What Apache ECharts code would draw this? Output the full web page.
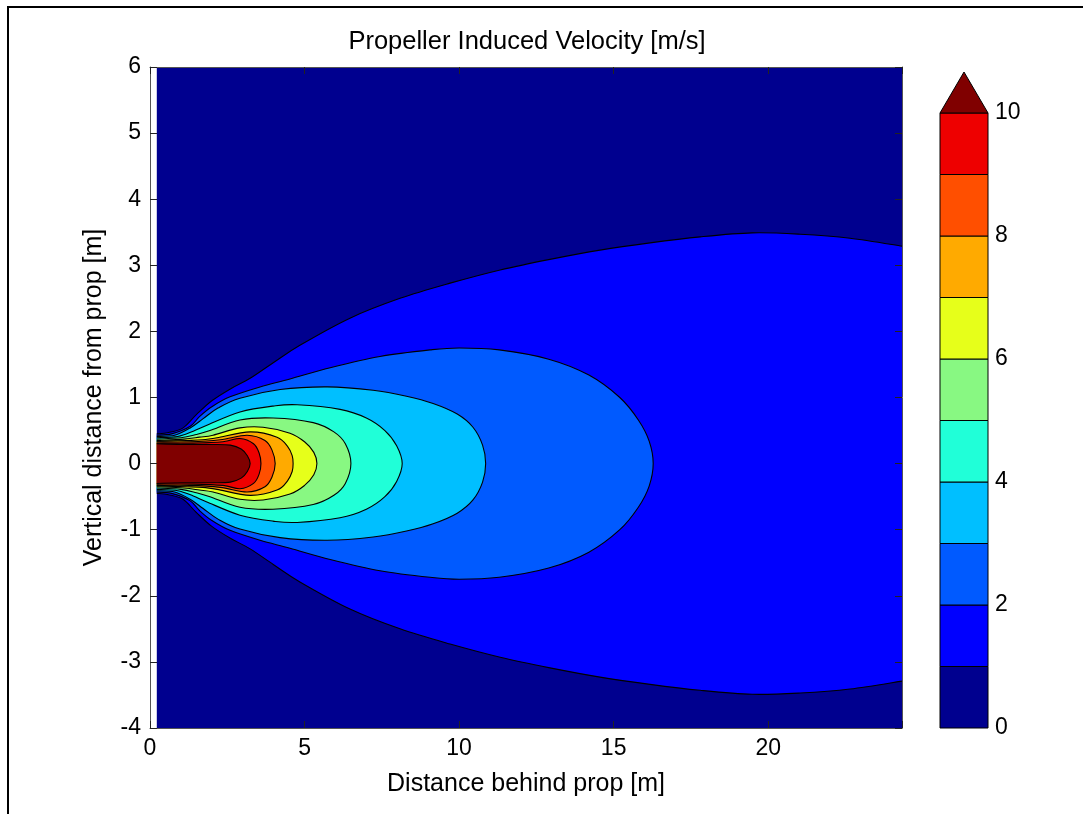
<!DOCTYPE html>
<html>
<head>
<meta charset="utf-8">
<script src="https://cdn.jsdelivr.net/npm/echarts@6/dist/echarts.min.js"></script>
<style>
  html, body { margin: 0; padding: 0; background: #fff; }
  #chart { width: 1083px; height: 814px; }
</style>
</head>
<body>
<div id="chart"></div>
<script>
// ---- data -------------------------------------------------------------
// Filled velocity bands [m/s]: 0-1, 1-2, ..., 9-10 and >10
const bandEdges = [0, 1, 2, 3, 4, 5, 6, 7, 8, 9, 10];
const bandColors = ['#00008F', '#0000FF', '#005AFF', '#00BFFF', '#20FFD8',
                    '#88F882', '#E6FF1A', '#FFAA00', '#FF4F00', '#EE0000', '#800000'];
const colorbarTicks = [0, 2, 4, 6, 8, 10];
const xTicks = [0, 5, 10, 15, 20];
const yTicks = [-4, -3, -2, -1, 0, 1, 2, 3, 4, 5, 6];

// Extent of the computed field [m]
const fieldX = [0.22, 24.33];
const fieldY = [-4, 6];

// Upper half of each iso-velocity contour, [x, y] in metres (wake is symmetric about y = 0)
const contour1 = [[0.22, 0.45], [0.6, 0.47], [1.07, 0.54], [1.5, 0.74], [2.0, 0.95], [2.6, 1.13],
  [3.24, 1.29], [4.0, 1.53], [4.85, 1.79], [6.47, 2.2], [8.09, 2.5], [9.71, 2.73], [11.33, 2.93],
  [12.94, 3.09], [14.56, 3.23], [16.18, 3.34], [17.8, 3.43], [19.48, 3.49], [21.04, 3.47],
  [22.65, 3.41], [24.33, 3.29]];
const contour2 = [[0.22, 0.43], [0.7, 0.45], [1.29, 0.56], [1.6, 0.71], [2.0, 0.86], [2.59, 1.01],
  [3.56, 1.16], [4.53, 1.28], [5.83, 1.45], [7.44, 1.62], [9.06, 1.72], [10.0, 1.75], [11.3, 1.72],
  [12.9, 1.58], [14.2, 1.34], [15.2, 1.0], [15.8, 0.66], [16.15, 0.34], [16.28, 0]];
const contour3 = [[0.22, 0.41], [0.8, 0.43], [1.3, 0.54], [1.72, 0.68], [2.2, 0.84], [2.91, 0.99],
  [4.21, 1.12], [5.73, 1.16], [7.22, 1.11], [8.3, 1.02], [9.16, 0.91], [9.94, 0.75],
  [10.45, 0.55], [10.76, 0.28], [10.86, 0]];
const contour4 = [[0.22, 0.39], [0.9, 0.41], [1.4, 0.49], [1.84, 0.58], [2.91, 0.78], [3.98, 0.87],
  [4.76, 0.89], [6.15, 0.82], [7.0, 0.69], [7.6, 0.50], [7.98, 0.27], [8.16, 0]];
const contour5 = [[0.22, 0.37], [1.0, 0.39], [1.5, 0.44], [1.94, 0.50], [2.91, 0.66], [3.98, 0.69],
  [5.28, 0.62], [5.95, 0.48], [6.32, 0.30], [6.50, 0]];
const contour6 = [[0.22, 0.35], [1.1, 0.37], [1.6, 0.40], [2.04, 0.43], [2.91, 0.54], [3.66, 0.55],
  [4.53, 0.46], [5.0, 0.33], [5.30, 0.17], [5.40, 0]];
const contour7 = [[0.22, 0.34], [1.2, 0.35], [1.7, 0.36], [2.17, 0.39], [3.24, 0.48], [4.11, 0.40],
  [4.45, 0.26], [4.60, 0.12], [4.63, 0]];
const contour8 = [[0.22, 0.33], [1.3, 0.33], [2.27, 0.36], [3.14, 0.43], [3.72, 0.35], [3.95, 0.20],
  [4.05, 0]];
const contour9 = [[0.22, 0.31], [1.4, 0.31], [2.36, 0.33], [2.91, 0.38], [3.35, 0.30], [3.53, 0.16],
  [3.59, 0]];
const contour10 = [[0.22, 0.30], [1.0, 0.29], [2.0, 0.29], [2.6, 0.28], [2.95, 0.22], [3.15, 0.12],
  [3.24, 0]];
const contourShapes = [contour1, contour2, contour3, contour4, contour5,
                       contour6, contour7, contour8, contour9, contour10];

// ---- drawing ----------------------------------------------------------
const FONT = '"Liberation Sans", Arial, Helvetica, sans-serif';
const chart = echarts.init(document.getElementById('chart'), null, { renderer: 'canvas' });

// Catmull-Rom curve through pixel points, as SVG path commands
function curvePath(pts, start) {
  const f = v => v.toFixed(2);
  let d = (start ? 'M' : 'L') + f(pts[0][0]) + ' ' + f(pts[0][1]);
  for (let i = 0; i < pts.length - 1; i++) {
    const p0 = pts[Math.max(i - 1, 0)], p1 = pts[i], p2 = pts[i + 1], p3 = pts[Math.min(i + 2, pts.length - 1)];
    const c1 = [p1[0] + (p2[0] - p0[0]) / 6, p1[1] + (p2[1] - p0[1]) / 6];
    const c2 = [p2[0] - (p3[0] - p1[0]) / 6, p2[1] - (p3[1] - p1[1]) / 6];
    d += ' C' + f(c1[0]) + ' ' + f(c1[1]) + ' ' + f(c2[0]) + ' ' + f(c2[1]) + ' ' + f(p2[0]) + ' ' + f(p2[1]);
  }
  return d;
}

function renderField(params, api) {
  const p0 = api.coord([api.value(0), api.value(3)]);
  const p1 = api.coord([api.value(2), api.value(1)]);
  return {
    type: 'rect',
    shape: { x: p0[0], y: p0[1], width: p1[0] - p0[0], height: p1[1] - p0[1] },
    style: { fill: bandColors[0] },
    z2: 0
  };
}

function renderContour(params, api) {
  const idx = api.value(0);
  const upper = contourShapes[idx];
  const up = upper.map(p => api.coord([p[0], p[1]]));
  const lo = upper.map(p => api.coord([p[0], -p[1]]));
  const loBack = lo.slice().reverse();
  const closesOnAxis = upper[upper.length - 1][1] === 0;
  const lineStyle = { stroke: '#000', lineWidth: 1.1, fill: null };
  const children = [];
  if (closesOnAxis) {
    // one curve out along the upper branch, round the tip, back along the lower branch
    const outline = up.concat(loBack.slice(1));
    const d = curvePath(outline, true);
    children.push({ type: 'path', shape: { pathData: d + ' Z' }, style: { fill: bandColors[idx + 1] }, z2: idx + 1 });
    children.push({ type: 'path', shape: { pathData: d }, style: lineStyle, z2: 100 });
  } else {
    // branches leave the field through its right edge
    const dUp = curvePath(up, true);
    const dLo = curvePath(loBack, false);
    children.push({ type: 'path', shape: { pathData: dUp + ' ' + dLo + ' Z' }, style: { fill: bandColors[idx + 1] }, z2: idx + 1 });
    children.push({ type: 'path', shape: { pathData: dUp }, style: lineStyle, z2: 100 });
    children.push({ type: 'path', shape: { pathData: curvePath(lo, true) }, style: lineStyle, z2: 100 });
  }
  return { type: 'group', children };
}

function renderColorbar(params, api) {
  const i = api.value(0);
  if (i < bandEdges.length - 1) {
    const a = api.coord([0, bandEdges[i + 1]]);
    const b = api.coord([1, bandEdges[i]]);
    return {
      type: 'rect',
      shape: { x: a[0], y: a[1], width: b[0] - a[0], height: b[1] - a[1] },
      style: { fill: bandColors[i], stroke: '#000', lineWidth: 1 }
    };
  }
  // overflow band (> top edge) drawn as a triangle on top of the bar
  const l = api.coord([0, bandEdges[i]]);
  const r = api.coord([1, bandEdges[i]]);
  return {
    type: 'polygon',
    shape: { points: [l, r, [(l[0] + r[0]) / 2, l[1] - 41]] },
    style: { fill: bandColors[i], stroke: '#000', lineWidth: 1 }
  };
}

const tickLabel = { fontSize: 23, color: '#000', fontFamily: FONT };
const axisLine = { show: true, onZero: false, lineStyle: { color: '#555', width: 1 } };
const axisTick = { show: true, inside: true, length: 7, lineStyle: { color: '#222', width: 1 } };

const option = {
  backgroundColor: '#fff',
  animation: false,
  graphic: [
    { type: 'polyline', shape: { points: [[8, 814], [8, 7], [1083, 7]] },
      style: { stroke: '#000', lineWidth: 2, fill: null } },
    { type: 'text', x: 527, y: 42,
      style: { text: 'Propeller Induced Velocity [m/s]', font: '25.5px ' + FONT, fill: '#000',
               textAlign: 'center', textVerticalAlign: 'middle' } }
  ],
  grid: [
    { left: 150, top: 67, width: 752, height: 661, show: false },
    { left: 940, top: 113, width: 48, height: 615, show: false }
  ],
  xAxis: [
    { gridIndex: 0, type: 'value', min: 0, max: fieldX[1], interval: 5, position: 'bottom', z: 10,
      axisLine, axisTick, splitLine: { show: false },
      axisLabel: Object.assign({ margin: 9, formatter: v => xTicks.includes(v) ? String(v) : '' }, tickLabel),
      name: 'Distance behind prop [m]', nameLocation: 'middle', nameGap: 44,
      nameTextStyle: { fontSize: 25, color: '#000', fontFamily: FONT } },
    { gridIndex: 0, type: 'value', min: 0, max: fieldX[1], interval: 5, position: 'top', z: 10,
      axisLine, axisTick, splitLine: { show: false }, axisLabel: { show: false } },
    { gridIndex: 1, type: 'value', min: 0, max: 1, show: false }
  ],
  yAxis: [
    { gridIndex: 0, type: 'value', min: yTicks[0], max: yTicks[yTicks.length - 1], interval: 1,
      position: 'left', z: 10, axisLine, axisTick, splitLine: { show: false },
      axisLabel: Object.assign({ margin: 9, padding: [4, 0, 0, 0] }, tickLabel),
      name: 'Vertical distance from prop [m]', nameLocation: 'middle', nameGap: 43,
      nameTextStyle: { fontSize: 25, color: '#000', fontFamily: FONT } },
    { gridIndex: 0, type: 'value', min: yTicks[0], max: yTicks[yTicks.length - 1], interval: 1,
      position: 'right', z: 10, axisLine, axisTick, splitLine: { show: false }, axisLabel: { show: false } },
    { gridIndex: 1, type: 'value', min: colorbarTicks[0], max: colorbarTicks[colorbarTicks.length - 1],
      interval: 2, position: 'right', axisLine: { show: false }, axisTick: { show: false },
      splitLine: { show: false }, axisLabel: Object.assign({ margin: 7, padding: [4, 0, 0, 0] }, tickLabel) }
  ],
  series: [
    { type: 'custom', name: 'field', xAxisIndex: 0, yAxisIndex: 0, clip: true, z: 1,
      renderItem: renderField, data: [[fieldX[0], fieldY[0], fieldX[1], fieldY[1]]] },
    { type: 'custom', name: 'contours', xAxisIndex: 0, yAxisIndex: 0, clip: true, z: 2,
      renderItem: renderContour, data: contourShapes.map((c, i) => [i]) },
    { type: 'custom', name: 'colorbar', xAxisIndex: 2, yAxisIndex: 2, clip: false, z: 2,
      renderItem: renderColorbar, data: bandColors.map((c, i) => [i]) }
  ]
};
chart.setOption(option);
</script>
</body>
</html>
